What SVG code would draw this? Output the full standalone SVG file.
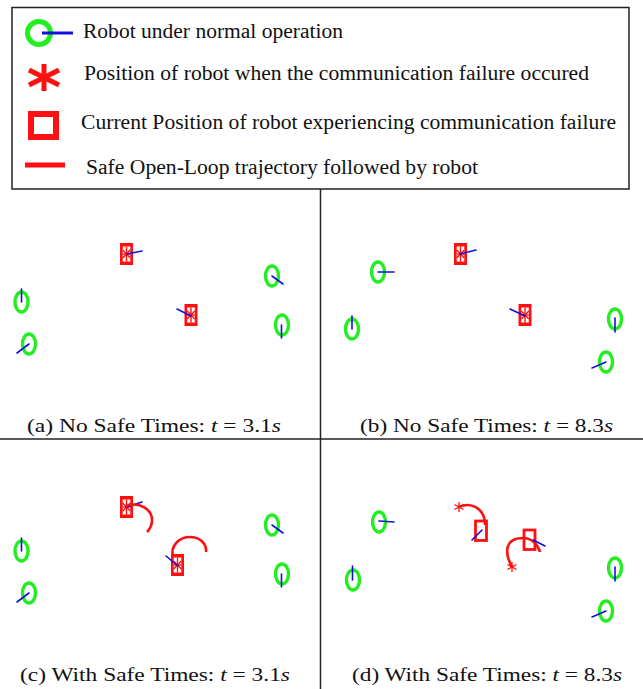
<svg xmlns="http://www.w3.org/2000/svg" xmlns:xlink="http://www.w3.org/1999/xlink" width="643" height="689" viewBox="0 0 643 689">
<style>
text{font-family:"Liberation Serif","Times New Roman",serif;fill:#111;}
.leg{font-size:20.5px;}
.cap{font-size:19px;}
.it{font-style:italic;}
.ring{fill:none;stroke:#22ee22;stroke-width:3.4;}
.head{stroke:#1010dd;stroke-width:1.6;stroke-linecap:round;}
.traj{fill:none;stroke:#ff1010;stroke-width:2.6;}
.frame{stroke:#222;stroke-width:1.5;fill:none;}
</style>
<defs>
<g id="fail">
<rect x="-6.5" y="-11" width="13" height="22" fill="#ff1010"/>
<rect x="-3.8" y="-7.5" width="7.6" height="15" fill="#fff"/>
<g stroke="#ff1010" stroke-width="1.4">
<line x1="0" y1="-7.5" x2="0" y2="7.5"/>
<line x1="-3.8" y1="-4" x2="3.8" y2="4"/>
<line x1="-3.8" y1="4" x2="3.8" y2="-4"/>
<line x1="-3.8" y1="0" x2="3.8" y2="0"/>
</g>
</g>
<g id="star">
<g stroke="#ff1010" stroke-width="1.3">
<line x1="0" y1="-5" x2="0" y2="5"/>
<line x1="-4.5" y1="-2.5" x2="4.5" y2="2.5"/>
<line x1="-4.5" y1="2.5" x2="4.5" y2="-2.5"/>
</g>
</g>
</defs>

<g id="legend">
<rect x="12" y="7.5" width="617" height="181.5" class="frame"/>
<circle cx="39" cy="33" r="11.5" fill="none" stroke="#22ee22" stroke-width="5"/>
<line x1="42" y1="33" x2="73" y2="33" stroke="#1010dd" stroke-width="3"/>
<text class="leg" x="83" y="38" textLength="260" lengthAdjust="spacingAndGlyphs">Robot under normal operation</text>
<g stroke="#ff1010" stroke-width="5">
<line x1="44" y1="64" x2="44" y2="91"/>
<line x1="29" y1="70" x2="59" y2="85"/>
<line x1="29" y1="85" x2="59" y2="70"/>
</g>
<text class="leg" x="84" y="80" textLength="505" lengthAdjust="spacingAndGlyphs">Position of robot when the communication failure occured</text>
<rect x="31" y="114" width="25" height="23" fill="none" stroke="#ff1010" stroke-width="6"/>
<text class="leg" x="81" y="129" textLength="535" lengthAdjust="spacingAndGlyphs">Current Position of robot experiencing communication failure</text>
<line x1="25" y1="165" x2="65" y2="165" stroke="#ff1010" stroke-width="5"/>
<text class="leg" x="86" y="174" textLength="392" lengthAdjust="spacingAndGlyphs">Safe Open-Loop trajectory followed by robot</text>
</g>

<g id="dividers">
<line x1="320.5" y1="189" x2="320.5" y2="689" class="frame"/>
<line x1="0" y1="439" x2="643" y2="439" class="frame"/>
</g>

<!-- Panel (a) -->
<g id="panel-a">
<g id="a-r1"><ellipse cx="21.5" cy="302" rx="6.5" ry="10" class="ring"/><line x1="21.5" y1="289" x2="21.5" y2="302" class="head"/></g>
<g id="a-r2"><ellipse cx="29" cy="344" rx="6.5" ry="10" class="ring"/><line x1="17" y1="353" x2="29" y2="344" class="head"/></g>
<g id="a-r3"><ellipse cx="272" cy="276" rx="6.5" ry="10" class="ring"/><line x1="272" y1="276" x2="283" y2="284" class="head"/></g>
<g id="a-r4"><ellipse cx="282" cy="325" rx="6.5" ry="10" class="ring"/><line x1="281.5" y1="325" x2="281.5" y2="338" class="head"/></g>
<g id="a-f1"><use xlink:href="#fail" x="126.5" y="254"/><line x1="127" y1="254" x2="142" y2="251" class="head"/></g>
<g id="a-f2"><use xlink:href="#fail" x="191" y="315"/><line x1="177" y1="309" x2="191" y2="316" class="head"/></g>
<text class="cap" x="27" y="432" textLength="254" lengthAdjust="spacingAndGlyphs">(a) No Safe Times: <tspan class="it">t</tspan> = 3.1<tspan class="it">s</tspan></text>
</g>

<!-- Panel (b) -->
<g id="panel-b">
<g id="b-r1"><ellipse cx="378" cy="272" rx="6.5" ry="10" class="ring"/><line x1="378" y1="272" x2="394" y2="272" class="head"/></g>
<g id="b-r2"><ellipse cx="352" cy="329" rx="6.5" ry="10" class="ring"/><line x1="352" y1="316" x2="352" y2="329" class="head"/></g>
<g id="b-r3"><ellipse cx="615" cy="319" rx="6.5" ry="10" class="ring"/><line x1="615" y1="318" x2="615" y2="332" class="head"/></g>
<g id="b-r4"><ellipse cx="606" cy="362" rx="6.5" ry="10" class="ring"/><line x1="592" y1="368" x2="606" y2="362" class="head"/></g>
<g id="b-f1"><use xlink:href="#fail" x="460.5" y="254"/><line x1="460" y1="254" x2="476" y2="250" class="head"/></g>
<g id="b-f2"><use xlink:href="#fail" x="525" y="315"/><line x1="510" y1="309" x2="525" y2="316" class="head"/></g>
<text class="cap" x="360" y="432" textLength="253" lengthAdjust="spacingAndGlyphs">(b) No Safe Times: <tspan class="it">t</tspan> = 8.3<tspan class="it">s</tspan></text>
</g>

<!-- Panel (c) -->
<g id="panel-c">
<g id="c-r1"><ellipse cx="21.5" cy="551" rx="6.5" ry="10" class="ring"/><line x1="21.5" y1="538" x2="21.5" y2="551" class="head"/></g>
<g id="c-r2"><ellipse cx="29" cy="593" rx="6.5" ry="10" class="ring"/><line x1="17" y1="602" x2="29" y2="593" class="head"/></g>
<g id="c-r3"><ellipse cx="272" cy="525" rx="6.5" ry="10" class="ring"/><line x1="272" y1="525" x2="283" y2="533" class="head"/></g>
<g id="c-r4"><ellipse cx="282" cy="574" rx="6.5" ry="10" class="ring"/><line x1="281.5" y1="574" x2="281.5" y2="587" class="head"/></g>
<g id="c-f1"><use xlink:href="#fail" x="126.5" y="507"/><line x1="127" y1="507" x2="142" y2="502" class="head"/><path d="M126,506 C140,501 152,510 152,520 C152,525 150,529 147,532" class="traj"/></g>
<g id="c-f2"><use xlink:href="#fail" x="177.5" y="565"/><line x1="166" y1="556" x2="178" y2="566" class="head"/><path d="M173,557 C170,545 180,537 190,537 C200,537 207,544 206,552" class="traj"/></g>
<text class="cap" x="20" y="681" textLength="270" lengthAdjust="spacingAndGlyphs">(c) With Safe Times: <tspan class="it">t</tspan> = 3.1<tspan class="it">s</tspan></text>
</g>

<!-- Panel (d) -->
<g id="panel-d">
<g id="d-r1"><ellipse cx="379" cy="522" rx="6.5" ry="10" class="ring"/><line x1="379" y1="521" x2="394" y2="522" class="head"/></g>
<g id="d-r2"><ellipse cx="353" cy="580" rx="6.5" ry="10" class="ring"/><line x1="352.5" y1="566" x2="352.5" y2="580" class="head"/></g>
<g id="d-r3"><ellipse cx="615" cy="568" rx="6.5" ry="10" class="ring"/><line x1="615" y1="567" x2="615" y2="581" class="head"/></g>
<g id="d-r4"><ellipse cx="606" cy="611" rx="6.5" ry="10" class="ring"/><line x1="592" y1="617" x2="606" y2="611" class="head"/></g>
<g id="d-f1">
<path d="M459,507 C470,502 485,507 485,525" class="traj"/>
<use xlink:href="#star" x="459" y="507"/>
<rect x="475.5" y="521" width="11" height="19.5" fill="none" stroke="#ff1010" stroke-width="2.8"/>
<line x1="472" y1="540" x2="482" y2="530" class="head"/>
</g>
<g id="d-f2">
<path d="M512,567 C504,552 505,538 523,538 C532,538 538,545 540,552" class="traj"/>
<use xlink:href="#star" x="512" y="567"/>
<rect x="524" y="530" width="11" height="19.5" fill="none" stroke="#ff1010" stroke-width="2.8"/>
<line x1="533" y1="540" x2="545" y2="546" class="head"/>
</g>
<text class="cap" x="352" y="681" textLength="270" lengthAdjust="spacingAndGlyphs">(d) With Safe Times: <tspan class="it">t</tspan> = 8.3<tspan class="it">s</tspan></text>
</g>
</svg>
